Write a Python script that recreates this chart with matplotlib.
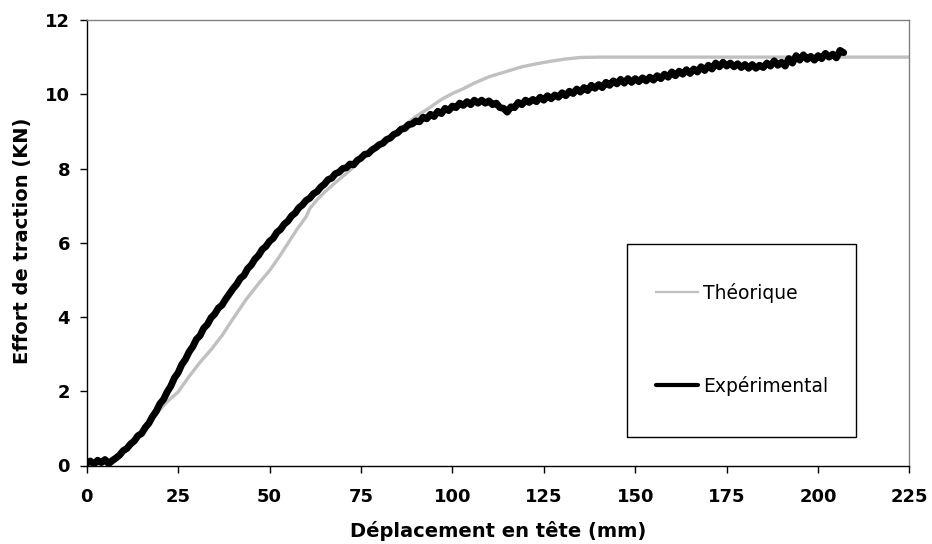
import matplotlib
matplotlib.use("Agg")
import matplotlib.pyplot as plt
from matplotlib.patches import Rectangle

# ---------------- data ----------------
theo_x = [0, 5, 10, 15, 20, 22, 25, 28, 31, 34, 37, 40, 43.5, 47, 50, 52.5, 55,
          57.5, 60, 61, 63, 65, 68, 72, 75, 80, 85, 90, 93.5, 97, 100, 103, 106,
          110, 115, 119, 123, 127, 131, 135, 140, 160, 180, 200, 225]
theo_y = [0.02, 0.10, 0.35, 0.85, 1.50, 1.72, 1.98, 2.40, 2.78, 3.12, 3.50, 3.95,
          4.46, 4.90, 5.25, 5.60, 5.98, 6.36, 6.70, 6.92, 7.16, 7.36, 7.62, 7.95,
          8.25, 8.62, 9.02, 9.40, 9.62, 9.86, 10.02, 10.15, 10.30, 10.47, 10.62,
          10.74, 10.82, 10.89, 10.95, 10.99, 11.0, 11.0, 11.0, 11.0, 11.0]

exp_x = list(range(0, 208))
exp_y = [
    0.06, 0.12, 0.04, 0.14, 0.08, 0.16, 0.05, 0.13, 0.20, 0.28,
    0.40, 0.46, 0.58, 0.66, 0.80, 0.86, 1.02, 1.14, 1.32, 1.46,
    1.66, 1.78, 1.98, 2.14, 2.36, 2.50, 2.72, 2.86, 3.06, 3.20,
    3.40, 3.50, 3.70, 3.80, 3.98, 4.08, 4.24, 4.32, 4.48, 4.62,
    4.76, 4.88, 5.04, 5.12, 5.30, 5.40, 5.56, 5.66, 5.82, 5.90,
    6.04, 6.12, 6.28, 6.36, 6.50, 6.58, 6.72, 6.80, 6.94, 7.02,
    7.14, 7.20, 7.32, 7.38, 7.50, 7.58, 7.70, 7.74, 7.86, 7.90,
    8.00, 8.02, 8.12, 8.10, 8.22, 8.28, 8.38, 8.40, 8.50, 8.56,
    8.64, 8.68, 8.78, 8.82, 8.92, 8.96, 9.06, 9.08, 9.18, 9.20,
    9.28, 9.26, 9.38, 9.34, 9.46, 9.40, 9.54, 9.48, 9.62, 9.56,
    9.68, 9.64, 9.76, 9.70, 9.80, 9.72, 9.84, 9.76, 9.84, 9.76,
    9.82, 9.72, 9.76, 9.64, 9.62, 9.52, 9.66, 9.64, 9.78, 9.72,
    9.84, 9.78, 9.86, 9.80, 9.92, 9.84, 9.96, 9.88, 9.98, 9.92,
    10.04, 9.96, 10.08, 10.02, 10.14, 10.06, 10.18, 10.10, 10.24, 10.16,
    10.26, 10.18, 10.32, 10.24, 10.36, 10.28, 10.40, 10.30, 10.42, 10.32,
    10.42, 10.34, 10.44, 10.36, 10.46, 10.38, 10.50, 10.42, 10.54, 10.46,
    10.60, 10.50, 10.62, 10.54, 10.66, 10.56, 10.68, 10.60, 10.74, 10.64,
    10.78, 10.68, 10.84, 10.74, 10.86, 10.76, 10.84, 10.74, 10.82, 10.72,
    10.80, 10.70, 10.80, 10.70, 10.78, 10.72, 10.84, 10.76, 10.90, 10.78,
    10.86, 10.76, 10.96, 10.84, 11.04, 10.92, 11.06, 10.94, 11.02, 10.92,
    11.04, 10.96, 11.10, 11.00, 11.08, 10.98, 11.18, 11.12,
]

x_ticks = [0, 25, 50, 75, 100, 125, 150, 175, 200, 225]
y_ticks = [0, 2, 4, 6, 8, 10, 12]
labels = ["Théorique", "Expérimental"]
x_label = "Déplacement en tête (mm)"
y_label = "Effort de traction (KN)"

# ---------------- figure ----------------
W, H = 932, 544
fig = plt.figure(figsize=(W / 100, H / 100), dpi=100)
fig.patch.set_facecolor("white")

L, R, T, B = 86.7, 909.5, 20.0, 465.5
ax = fig.add_axes([L / W, 1 - B / H, (R - L) / W, (B - T) / H])

ax.plot(theo_x, theo_y, color="#c0c0c0", lw=2.4,
        solid_joinstyle="round", label=labels[0], zorder=2)
ax.plot(exp_x, exp_y, color="black", lw=5.0,
        solid_joinstyle="round", solid_capstyle="round", label=labels[1], zorder=3)

ax.set_xlim(0, 225)
ax.set_ylim(0, 12)
ax.set_xticks(x_ticks)
ax.set_yticks(y_ticks)

tick_font = dict(family="DejaVu Sans", weight="bold", size=13)
ax.set_xticklabels([str(v) for v in x_ticks], **tick_font)
ax.set_yticklabels([str(v) for v in y_ticks], **tick_font)
ax.tick_params(axis="x", direction="out", length=5, width=1, pad=11, colors="black")
ax.tick_params(axis="y", direction="out", length=5, width=1, pad=7, colors="black")
ax.tick_params(top=False, right=False)

for s in ("left", "bottom"):
    ax.spines[s].set_color("black")
    ax.spines[s].set_linewidth(1.0)
for s in ("top", "right"):
    ax.spines[s].set_color("#808080")
    ax.spines[s].set_linewidth(1.0)

lab_font = dict(family="DejaVu Sans", weight="bold", size=14)
ax.set_xlabel(x_label, **lab_font)
ax.xaxis.label.set_va("baseline")
ax.xaxis.set_label_coords(0.5, (B - 537) / (B - T))

fig.text(28.3 / W, 1 - 241 / H, y_label, rotation=90, rotation_mode="anchor",
         ha="center", va="baseline", **lab_font)

# legend frame (drawn inside the axes, below the legend)
fx0, fx1, fy0, fy1 = 627, 856, 244, 437
frame = Rectangle((fx0 / W, 1 - fy1 / H), (fx1 - fx0) / W, (fy1 - fy0) / H,
                  transform=fig.transFigure, facecolor="white",
                  edgecolor="black", lw=1.0, zorder=8, clip_on=False)
ax.add_patch(frame)
leg = ax.legend(loc="center left", bbox_to_anchor=(647 / W, 1 - 339.2 / H),
                bbox_transform=fig.transFigure, frameon=False, borderpad=0,
                handlelength=2.2, handletextpad=0.3, labelspacing=3.9,
                prop=dict(family="DejaVu Sans", size=13.5))
leg.set_zorder(10)
leg.get_lines()[0].set_linewidth(1.6)
leg.get_lines()[1].set_linewidth(3.0)

fig.savefig("out.png", dpi=100, facecolor="white")
